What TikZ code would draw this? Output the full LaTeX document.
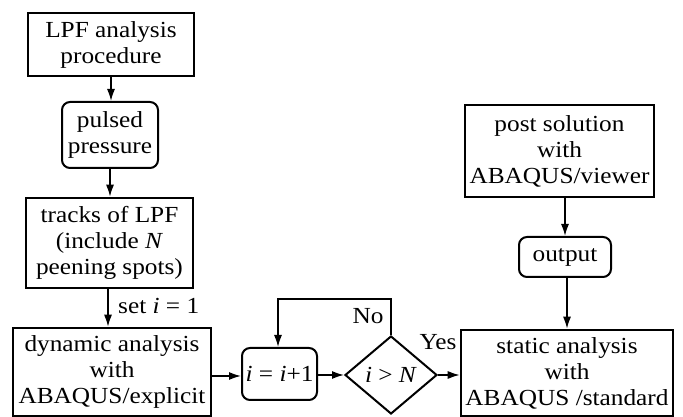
\documentclass[tikz,border=0pt]{standalone}
\usepackage{fontspec}
\setmainfont{Liberation Serif}[FakeStretch=1.1]
\usetikzlibrary{arrows.meta,shapes.geometric}
\tikzset{
  box/.style={draw, line width=2.6pt, rectangle, inner sep=1pt, align=center},
  rbox/.style={draw, line width=2pt, rectangle, rounded corners=8pt, inner sep=1pt, align=center},
  dbox/.style={draw, line width=2pt, diamond, inner sep=0pt},
  arr/.style={line width=1.5pt, -{Latex[length=12pt,width=8pt]}},
  txt/.style={inner sep=0pt}
}
\begin{document}
\begin{tikzpicture}[x=1pt,y=1pt,font=\fontsize{23}{26}\selectfont]
\useasboundingbox (0,0) rectangle (683,417);
\node[box, minimum width=166, minimum height=63] (lpf) at (111,372.5) {LPF analysis\\procedure};
\node[rbox, minimum width=96, minimum height=66] (pulsed) at (110,282) {pulsed\\pressure};
\node[box, minimum width=167, minimum height=90] (tracks) at (109.5,174) {tracks of LPF\\(include \textit{N}\\peening spots)};
\node[box, minimum width=198, minimum height=88] (dyn) at (112,45) {dynamic analysis\\with\\ABAQUS/explicit};
\node[rbox, minimum width=75, minimum height=52] (incr) at (279.5,43) {\textit{i} = \textit{i}+1};
\node[dbox, minimum width=92, minimum height=78] (dia) at (391,42) {\textit{i} > \textit{N}};
\node[box, minimum width=212, minimum height=86] (static) at (567,44) {static analysis\\with\\ABAQUS /standard};
\node[box, minimum width=189, minimum height=92] (post) at (559.5,266) {post solution\\with\\ABAQUS/viewer};
\node[rbox, minimum width=92, minimum height=40] (output) at (565,160) {output};

\draw[arr] (lpf.south) -- (lpf.south |- pulsed.north);
\draw[arr] (pulsed.south) -- (pulsed.south |- tracks.north);
\draw[arr] ([xshift=-1.5pt]tracks.south) -- ([xshift=-1.5pt]tracks.south |- dyn.north);
\node[txt, anchor=west] (seti) at (118,111) {set \textit{i} = 1};
\draw[arr] (dyn.east |- 0,41) -- (incr.west |- 0,41);
\draw[arr] (incr.east |- 0,42) -- (dia.west);
\draw[arr] (dia.east) -- (dia.east -| static.west);
\coordinate (fb) at (391,118);
\draw[arr] (dia.north) -- (fb) -| ([xshift=-1.5pt]incr.north);
\node[txt] (no) at (368,101) {No};
\node[txt] (yes) at (438,75) {Yes};
\draw[arr] (output.north |- post.south) -- (output.north);
\draw[arr] ([xshift=2pt]output.south) -- ([xshift=2pt]output.south |- static.north);
\end{tikzpicture}
\end{document}
